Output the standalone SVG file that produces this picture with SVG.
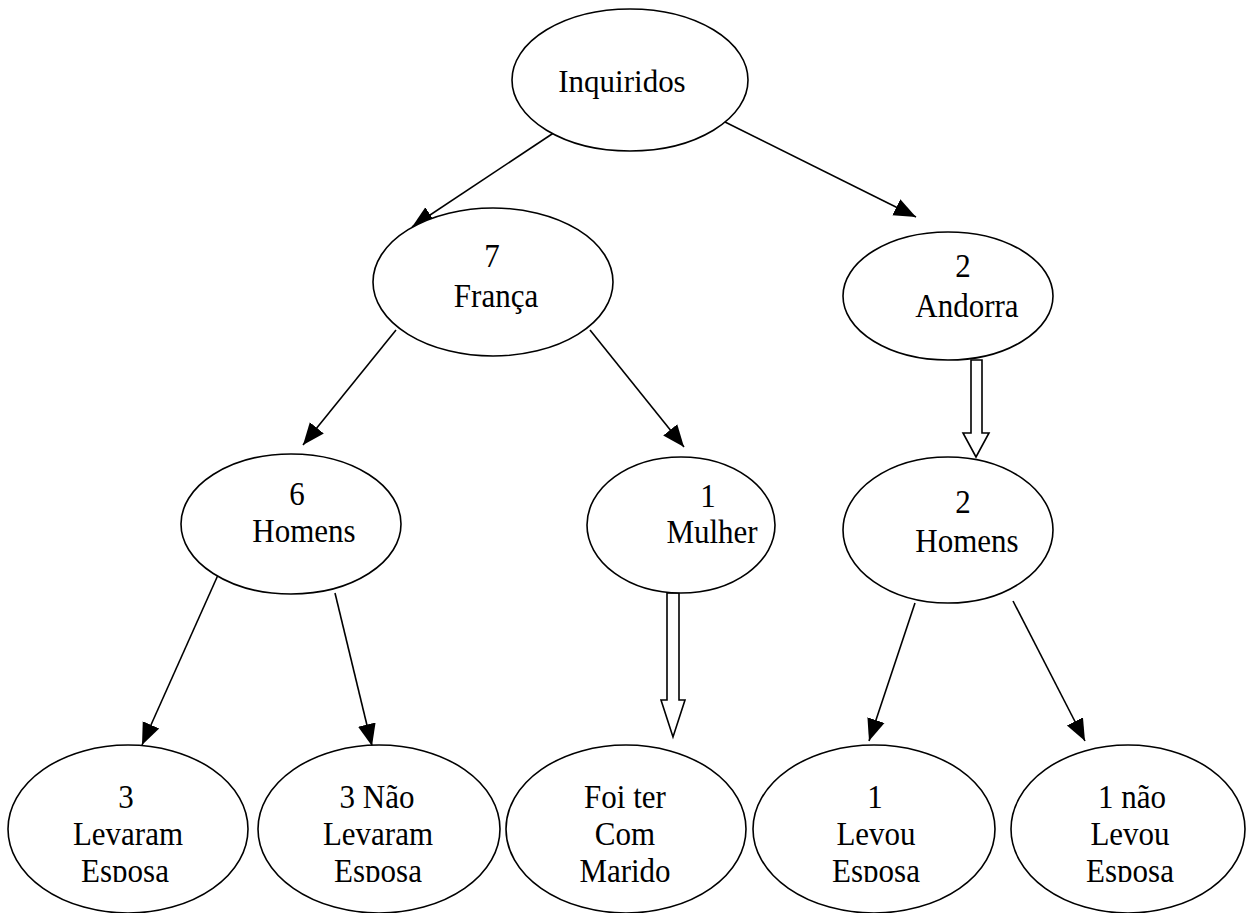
<svg xmlns="http://www.w3.org/2000/svg" width="1246" height="913" viewBox="0 0 1246 913">
<style>
.n{fill:#fff;stroke:#000;stroke-width:1.6}
.t{font-family:"Liberation Serif","Times New Roman",serif;font-size:31px;fill:#000;text-anchor:middle}
.c{stroke:#000;stroke-width:1.6;fill:none}
.b{fill:#fff;stroke:#000;stroke-width:1.6;stroke-linejoin:miter}
</style>
<defs>
<marker id="ah" markerUnits="userSpaceOnUse" markerWidth="24" markerHeight="20" viewBox="0 0 24 20" refX="22" refY="10" orient="auto">
<path d="M0,1 L22,10 L0,19 Z" fill="#000"/>
</marker>
<clipPath id="cb"><rect x="0" y="0" width="1246" height="882"/></clipPath>
</defs>
<rect width="1246" height="913" fill="#fff"/>
<g id="connectors">
<line class="c" x1="555" y1="132" x2="412" y2="227" marker-end="url(#ah)"/>
<line class="c" x1="725" y1="122" x2="916" y2="217" marker-end="url(#ah)"/>
<line class="c" x1="396" y1="330" x2="303" y2="445" marker-end="url(#ah)"/>
<line class="c" x1="590" y1="330" x2="684" y2="447" marker-end="url(#ah)"/>
<line class="c" x1="218" y1="575" x2="142" y2="745" marker-end="url(#ah)"/>
<line class="c" x1="335" y1="593" x2="372" y2="746" marker-end="url(#ah)"/>
<line class="c" x1="915" y1="603" x2="869" y2="741" marker-end="url(#ah)"/>
<line class="c" x1="1013" y1="601" x2="1085" y2="741" marker-end="url(#ah)"/>
<path class="b" d="M971,360 L982,360 L982,433 L989,433 L976,457 L963,433 L971,433 Z"/>
<path class="b" d="M667,593 L679,593 L679,700 L685,700 L673,737 L661,700 L667,700 Z"/>
</g>
<g id="inquiridos">
<ellipse class="n" cx="630" cy="80" rx="118" ry="71"/>
<text class="t" transform="translate(622,92) scale(1,1.03)">Inquiridos</text>
</g>
<g id="franca">
<ellipse class="n" cx="493" cy="282" rx="120" ry="74"/>
<text class="t" transform="translate(492,267) scale(1,1.08)">7</text>
<text class="t" transform="translate(496,307) scale(1,1.08)">França</text>
</g>
<g id="andorra">
<ellipse class="n" cx="948" cy="296" rx="105" ry="64"/>
<text class="t" transform="translate(963,277) scale(1,1.08)">2</text>
<text class="t" transform="translate(967,317) scale(1,1.08)">Andorra</text>
</g>
<g id="homens6">
<ellipse class="n" cx="291" cy="524" rx="110" ry="70"/>
<text class="t" transform="translate(297,505) scale(1,1.08)">6</text>
<text class="t" transform="translate(304,542) scale(1,1.08)">Homens</text>
</g>
<g id="mulher">
<ellipse class="n" cx="681" cy="525" rx="94" ry="68"/>
<text class="t" transform="translate(708,507) scale(1,1.08)">1</text>
<text class="t" transform="translate(712,543) scale(1,1.08)">Mulher</text>
</g>
<g id="homens2">
<ellipse class="n" cx="948" cy="530" rx="105" ry="73"/>
<text class="t" transform="translate(963,513) scale(1,1.08)">2</text>
<text class="t" transform="translate(967,552) scale(1,1.08)">Homens</text>
</g>
<g id="levaram">
<ellipse class="n" cx="128" cy="829" rx="120" ry="84"/>
<g clip-path="url(#cb)">
<text class="t" transform="translate(126,808) scale(1,1.12)">3</text>
<text class="t" transform="translate(128,845) scale(1,1.12)">Levaram</text>
<text class="t" transform="translate(125,882) scale(1,1.12)">Esposa</text>
</g>
</g>
<g id="naolevaram">
<ellipse class="n" cx="379" cy="829" rx="121" ry="84"/>
<g clip-path="url(#cb)">
<text class="t" transform="translate(377,808) scale(1,1.12)">3 Não</text>
<text class="t" transform="translate(378,845) scale(1,1.12)">Levaram</text>
<text class="t" transform="translate(378,882) scale(1,1.12)">Esposa</text>
</g>
</g>
<g id="marido">
<ellipse class="n" cx="626" cy="829" rx="120" ry="84"/>
<g clip-path="url(#cb)">
<text class="t" transform="translate(625,808) scale(1,1.12)">Foi ter</text>
<text class="t" transform="translate(625,845) scale(1,1.12)">Com</text>
<text class="t" transform="translate(625,882) scale(1,1.12)">Marido</text>
</g>
</g>
<g id="levou">
<ellipse class="n" cx="874" cy="829" rx="121" ry="84"/>
<g clip-path="url(#cb)">
<text class="t" transform="translate(875,808) scale(1,1.12)">1</text>
<text class="t" transform="translate(876,845) scale(1,1.12)">Levou</text>
<text class="t" transform="translate(876,882) scale(1,1.12)">Esposa</text>
</g>
</g>
<g id="naolevou">
<ellipse class="n" cx="1128" cy="829" rx="117" ry="84"/>
<g clip-path="url(#cb)">
<text class="t" transform="translate(1132,808) scale(1,1.12)">1 não</text>
<text class="t" transform="translate(1130,845) scale(1,1.12)">Levou</text>
<text class="t" transform="translate(1130,882) scale(1,1.12)">Esposa</text>
</g>
</g>
</svg>
